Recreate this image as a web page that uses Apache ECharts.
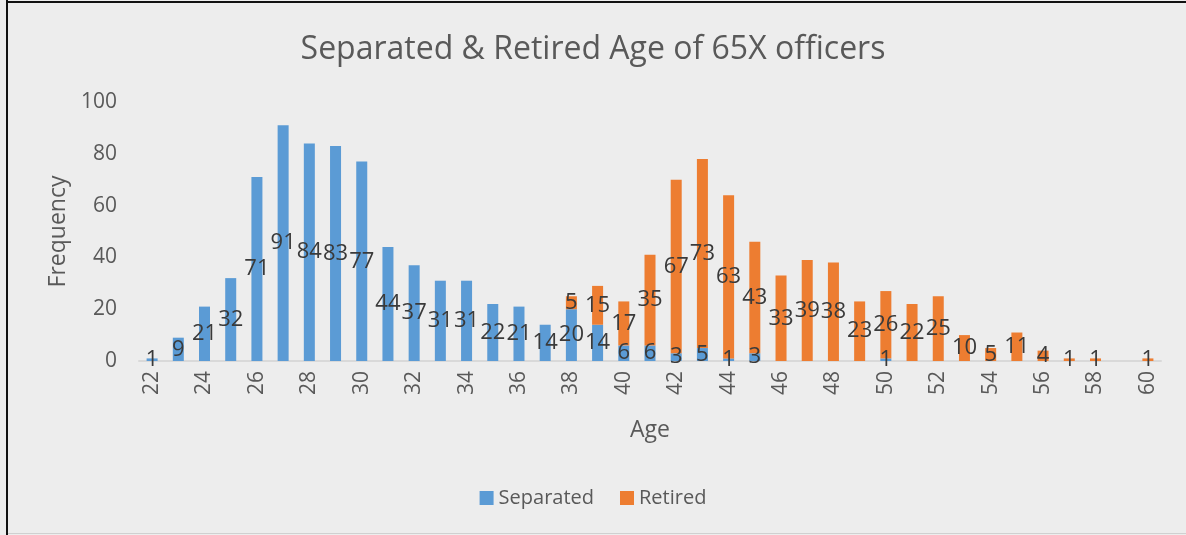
<!DOCTYPE html>
<html>
<head>
<meta charset="utf-8">
<script src="https://cdn.jsdelivr.net/npm/echarts@6/dist/echarts.min.js"></script>
<style>
  html, body { margin: 0; padding: 0; background: #fff; }
  #main { width: 1186px; height: 535px; }
</style>
</head>
<body>
<div id="main"></div>
<script>
// 数据
var ages = [];
for (var a = 22; a <= 60; a++) ages.push(String(a));

var separated = [1, 9, 21, 32, 71, 91, 84, 83, 77, 44, 37, 31, 31, 22, 21, 14, 20, 14, 6, 6,
  3, 5, 1, 3, 0, 0, 0, 0, 1, 0, 0, 0, 0, 0, 0, 0, 0, 0, 0];
var retired = [0, 0, 0, 0, 0, 0, 0, 0, 0, 0, 0, 0, 0, 0, 0, 0, 5, 15, 17, 35,
  67, 73, 63, 43, 33, 39, 38, 23, 26, 22, 25, 10, 5, 11, 4, 1, 1, 0, 1];

var myChart = echarts.init(document.getElementById('main'));

var labelStyle = {
  show: true,
  position: 'inside',
  color: '#3a3a3a',
  fontSize: 22,
  fontFamily: 'Open Sans',
  formatter: function (p) { return p.value ? p.value : ''; }
};

myChart.setOption({
  backgroundColor: '#ededed',
  textStyle: { fontFamily: 'Open Sans' },
  title: {
    text: 'Separated & Retired Age of 65X officers',
    left: 'center',
    top: 29,
    textStyle: { fontSize: 32, fontWeight: 'normal', color: '#595959', fontFamily: 'Open Sans' }
  },
  legend: {
    bottom: 22,
    left: 'center',
    itemWidth: 14,
    itemHeight: 14,
    itemGap: 26,
    icon: 'rect',
    textStyle: { fontSize: 20, color: '#595959' },
    data: ['Separated', 'Retired']
  },
  grid: { left: 139, right: 25, top: 102, bottom: 174 },
  xAxis: {
    type: 'category',
    data: ages,
    name: 'Age',
    nameLocation: 'middle',
    nameGap: 58,
    nameTextStyle: { fontSize: 23, color: '#595959' },
    axisLine: { lineStyle: { color: '#d9d9d9', width: 2 } },
    axisTick: { show: false },
    axisLabel: { interval: 1, rotate: 90, fontSize: 21, color: '#595959', margin: 10 }
  },
  yAxis: {
    type: 'value',
    min: 0,
    max: 100,
    interval: 20,
    name: 'Frequency',
    nameLocation: 'middle',
    nameGap: 58,
    nameTextStyle: { fontSize: 23, color: '#595959' },
    axisLine: { show: false },
    axisTick: { show: false },
    splitLine: { show: false },
    axisLabel: { fontSize: 21, color: '#595959', margin: 22 }
  },
  series: [{
    name: 'Separated',
    type: 'bar',
    stack: 'total',
    barCategoryGap: '58%',
    itemStyle: { color: '#5b9bd5' },
    label: labelStyle,
    data: separated
  }, {
    name: 'Retired',
    type: 'bar',
    stack: 'total',
    barCategoryGap: '58%',
    itemStyle: { color: '#ed7d31' },
    label: labelStyle,
    data: retired
  }],
  graphic: [
    { type: 'rect', shape: { x: 6, y: 0, width: 2, height: 535 }, style: { fill: '#111' } },
    { type: 'rect', shape: { x: 6, y: 1, width: 1180, height: 2 }, style: { fill: '#111' } },
    { type: 'rect', shape: { x: 8, y: 533, width: 1178, height: 1 }, style: { fill: '#d0d0d0' } }
  ]
});
</script>
</body>
</html>
